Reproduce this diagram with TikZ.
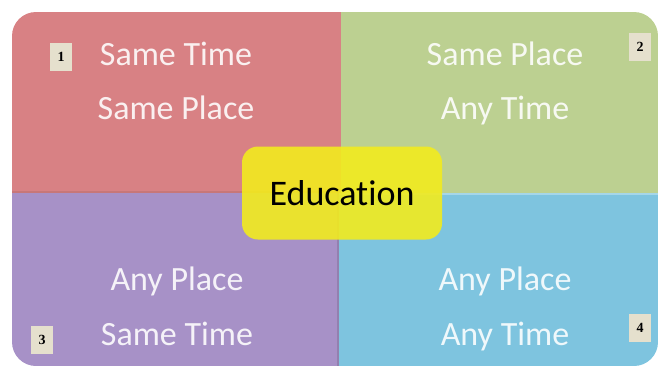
\documentclass[tikz,border=0pt]{standalone}
\usepackage{fontspec}
\setmainfont[Ligatures=NoCommon]{Carlito}
\newfontfamily\badgefont{Liberation Serif}

\definecolor{quadred}{RGB}{216,129,132}
\definecolor{quadgreen}{RGB}{188,208,145}
\definecolor{quadpurple}{RGB}{167,145,199}
\definecolor{quadblue}{RGB}{126,196,223}
\definecolor{hubyellow}{RGB}{242,235,30}
\definecolor{badgebg}{RGB}{229,224,205}

\tikzset{
  quadtext/.style={anchor=base, inner sep=0pt, font=\fontsize{34}{40}\selectfont},
  badge/.style={fill=badgebg, minimum width=22pt, minimum height=28pt, inner sep=0pt,
    font=\badgefont\fontsize{14}{16}\selectfont\bfseries},
  hub/.style={fill=hubyellow, fill opacity=0.9, text opacity=1, rounded corners=16pt,
    minimum width=200pt, minimum height=93pt, inner sep=0pt, font=\fontsize{36}{40}\selectfont},
}

\begin{document}
\begin{tikzpicture}[x=1pt,y=-1pt]
  \useasboundingbox (0,0) rectangle (659,372);
  % four quadrants inside one rounded outline
  \begin{scope}
    \clip[rounded corners=24pt] (12,12) rectangle (658,366);
    \fill[quadred] (12,12) rectangle (341,193);
    \fill[quadgreen] (341,12) rectangle (658,193);
    \fill[quadpurple] (12,193) rectangle (339,366);
    \fill[quadblue] (339,193) rectangle (658,366);
    % thin light edges between the parts
    \draw[white!30!quadblue, line width=1.5pt] (339,194) -- (658,194);
    \draw[black!12!quadpurple, line width=1.5pt] (338,193) -- (338,366);
    \draw[black!8!quadred, line width=1.5pt] (12,192) -- (341,192);
  \end{scope}

  \node[quadtext, text=white!88!quadred] (t1a) at (176,65) {Same Time};
  \node[quadtext, text=white!88!quadred] (t1b) at (176,119) {Same Place};
  \node[quadtext, text=white!88!quadgreen] (t2a) at (505,65) {Same Place};
  \node[quadtext, text=white!88!quadgreen] (t2b) at (505,119) {Any Time};
  \node[quadtext, text=white!88!quadpurple] (t3a) at (177,290) {Any Place};
  \node[quadtext, text=white!88!quadpurple] (t3b) at (177,345) {Same Time};
  \node[quadtext, text=white!88!quadblue] (t4a) at (505,290) {Any Place};
  \node[quadtext, text=white!88!quadblue] (t4b) at (505,345) {Any Time};

  \node[badge] (b1) at (61,57) {1};
  \node[badge] (b2) at (640,47) {2};
  \node[badge] (b3) at (42,340) {3};
  \node[badge] (b4) at (640,328) {4};

  \node[hub] (edu) at (342,193) {Education};
\end{tikzpicture}
\end{document}
